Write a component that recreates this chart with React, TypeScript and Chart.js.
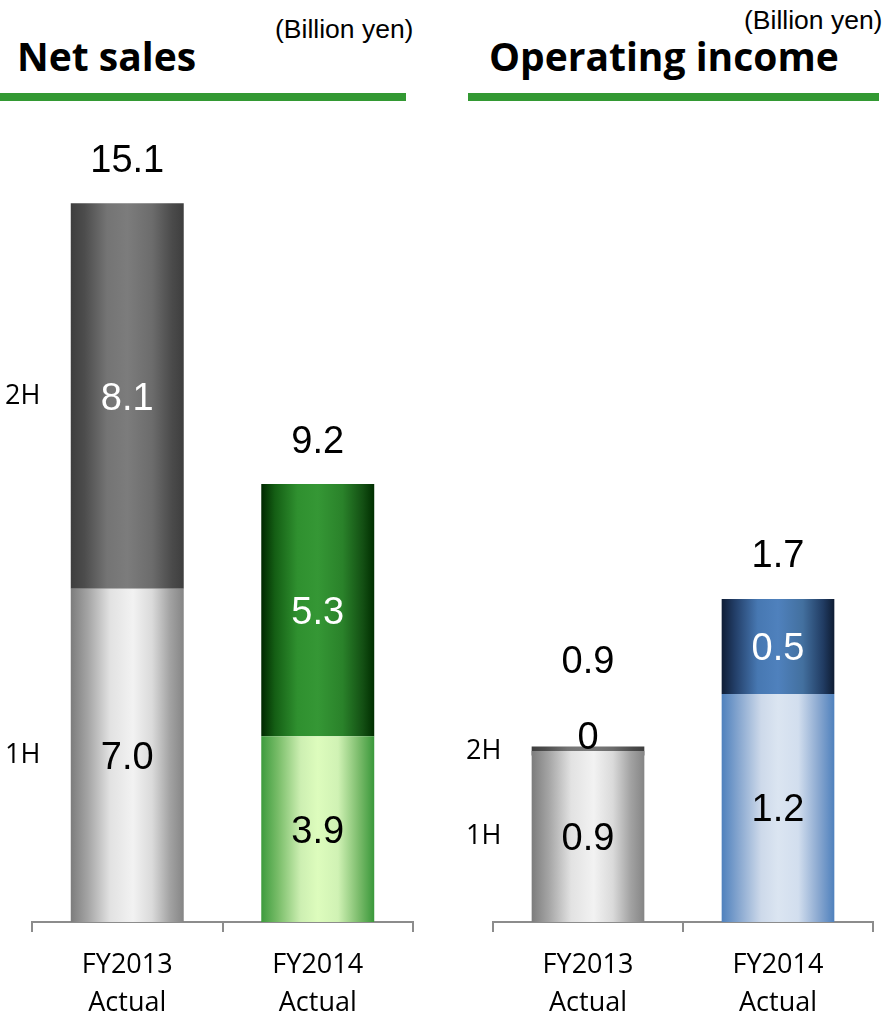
import React, { useEffect, useRef } from "react";
import { Chart, registerables } from "chart.js";

Chart.register(...registerables);

// ---- data (billion yen) ----
const categories = [
  ["FY2013", "Actual"],
  ["FY2014", "Actual"],
];
const halfNames = ["1H", "2H"];

const salesFirstHalf = [7.0, 3.9];
const salesSecondHalf = [8.1, 5.3];
const salesTotal = [15.1, 9.2];

const incomeFirstHalf = [0.9, 1.2];
const incomeSecondHalf = [0, 0.5];
const incomeTotal = [0.9, 1.7];

// ---- styling ----
type Stops = [number, string][];

const GRAY_DARK: Stops = [
  [0, "#3e3e3e"], [0.12, "#4c4c4c"], [0.32, "#747474"], [0.5, "#7c7c7c"],
  [0.72, "#6c6c6c"], [0.9, "#4a4a4a"], [1, "#3e3e3e"],
];
const GRAY_LIGHT: Stops = [
  [0, "#7c7c7c"], [0.15, "#a4a4a4"], [0.35, "#e2e2e2"], [0.55, "#f2f2f2"],
  [0.72, "#dadada"], [0.88, "#a2a2a2"], [1, "#858585"],
];
const GREEN_DARK: Stops = [
  [0, "#002800"], [0.12, "#145e14"], [0.32, "#2f902f"], [0.5, "#359735"],
  [0.72, "#2a822a"], [0.9, "#134f13"], [1, "#002e00"],
];
const GREEN_LIGHT: Stops = [
  [0, "#3d9b3d"], [0.15, "#79bd69"], [0.35, "#cdefb2"], [0.5, "#ddfcbd"],
  [0.68, "#d0f2b4"], [0.86, "#7dbd6d"], [1, "#3a983a"],
];
const BLUE_DARK: Stops = [
  [0, "#0f1d35"], [0.12, "#233f69"], [0.32, "#4778b2"], [0.5, "#4f81bd"],
  [0.72, "#43709f"], [0.9, "#213c63"], [1, "#0e1c33"],
];
const BLUE_LIGHT: Stops = [
  [0, "#4f81bd"], [0.15, "#86a6cf"], [0.35, "#cdd9ea"], [0.5, "#dbe5f1"],
  [0.68, "#d2deee"], [0.86, "#8aa8d0"], [1, "#4f81bd"],
];

const BAR_FRACTION = 0.593;
const NUM_FONT = '38px "Liberation Sans", Arial, sans-serif';
const HALF_FONT = '27px "Open Sans", sans-serif';

const fmt = (v: number) => (v === 0 ? "0" : v.toFixed(1));

function gradientFill(palettes: Stops[]) {
  return (c: any) => {
    const chart = c.chart;
    const area = chart.chartArea;
    const idx = typeof c.dataIndex === "number" ? c.dataIndex : 0;
    const stops = palettes[idx];
    if (!area || !chart.scales.x) return stops[3][1];
    const cx = chart.scales.x.getPixelForValue(idx);
    const w = ((area.right - area.left) / chart.data.labels.length) * BAR_FRACTION;
    const g = chart.ctx.createLinearGradient(cx - w / 2, 0, cx + w / 2, 0);
    stops.forEach(([o, col]) => g.addColorStop(o, col));
    return g;
  };
}

// value labels inside / above each stack, and the 1H / 2H captions
const stackLabels = {
  id: "stackLabels",
  afterDatasetsDraw(chart: any, _args: any, opts: any) {
    const ctx = chart.ctx as CanvasRenderingContext2D;
    const m0 = chart.getDatasetMeta(0);
    const m1 = chart.getDatasetMeta(1);
    const d0 = chart.data.datasets[0].data as number[];
    const d1 = chart.data.datasets[1].data as number[];
    const totals = opts.totals as number[];
    ctx.save();
    ctx.textAlign = "center";
    ctx.textBaseline = "middle";
    ctx.font = NUM_FONT;
    m0.data.forEach((bar0: any, i: number) => {
      const bar1 = m1.data[i];
      ctx.fillStyle = "#000";
      ctx.fillText(fmt(d0[i]), bar0.x, (bar0.y + bar0.base) / 2 + 3);
      const top = Math.min(bar0.y, bar1.y);
      const h1 = Math.abs(bar1.base - bar1.y);
      let totalY: number;
      if (h1 >= 40) {
        ctx.fillStyle = "#fff";
        ctx.fillText(fmt(d1[i]), bar1.x, (bar1.y + bar1.base) / 2 + 3);
        totalY = top - 42;
      } else {
        ctx.fillStyle = "#000";
        ctx.fillText(fmt(d1[i]), bar1.x, top - 8);
        totalY = top - 84;
      }
      ctx.fillStyle = "#000";
      ctx.fillText(fmt(totals[i]), bar1.x, totalY);
    });
    // half captions beside the first stack
    ctx.font = HALF_FONT;
    [m0, m1].forEach((meta: any, k: number) => {
      const b = meta.data[0];
      const x = b.x - b.width / 2 - 48;
      ctx.fillStyle = "#000";
      ctx.fillText(halfNames[k], x, (b.y + b.base) / 2);
    });
    ctx.restore();
  },
};

type PanelCfg = {
  first: number[];
  second: number[];
  totals: number[];
  firstPalettes: Stops[];
  secondPalettes: Stops[];
  yMax: number;
  padLeft: number;
  padRight: number;
};

function Panel({ cfg, left }: { cfg: PanelCfg; left: number }) {
  const ref = useRef<HTMLCanvasElement>(null);
  useEffect(() => {
    if (!ref.current) return;
    const chart = new Chart(ref.current, {
      type: "bar",
      data: {
        labels: categories,
        datasets: [
          {
            label: halfNames[0],
            data: cfg.first,
            backgroundColor: gradientFill(cfg.firstPalettes),
            borderWidth: 0,
          },
          {
            label: halfNames[1],
            data: cfg.second,
            backgroundColor: gradientFill(cfg.secondPalettes),
            borderWidth: 0,
            minBarLength: 9,
          },
        ],
      },
      options: {
        responsive: false,
        animation: false,
        layout: { padding: { left: cfg.padLeft, right: cfg.padRight, top: 0, bottom: 0 } },
        datasets: { bar: { categoryPercentage: 1, barPercentage: BAR_FRACTION } },
        plugins: {
          legend: { display: false },
          tooltip: { enabled: false },
          stackLabels: { totals: cfg.totals },
        } as any,
        scales: {
          x: {
            stacked: true,
            afterFit: (s: any) => {
              s.height = 96;
            },
            grid: {
              display: true,
              offset: true,
              drawOnChartArea: false,
              drawTicks: true,
              tickLength: 10,
              color: "#8c8c8c",
              lineWidth: 2,
            },
            border: { display: true, color: "#8c8c8c", width: 2 },
            ticks: {
              color: "#000",
              font: { family: '"Open Sans", sans-serif', size: 27, lineHeight: 1.42 },
              padding: 14,
              maxRotation: 0,
              autoSkip: false,
            },
          },
          y: {
            stacked: true,
            display: false,
            min: 0,
            max: cfg.yMax,
          },
        },
      },
      plugins: [stackLabels],
    });
    return () => chart.destroy();
  }, [cfg]);
  return (
    <canvas
      ref={ref}
      width={444}
      height={918}
      style={{ position: "absolute", left, top: 100, width: 444, height: 918, display: "block" }}
    />
  );
}

const salesCfg: PanelCfg = {
  first: salesFirstHalf,
  second: salesSecondHalf,
  totals: salesTotal,
  firstPalettes: [GRAY_LIGHT, GREEN_LIGHT],
  secondPalettes: [GRAY_DARK, GREEN_DARK],
  yMax: 17.27,
  padLeft: 32,
  padRight: 31,
};

const incomeCfg: PanelCfg = {
  first: incomeFirstHalf,
  second: incomeSecondHalf,
  totals: incomeTotal,
  firstPalettes: [GRAY_LIGHT, BLUE_LIGHT],
  secondPalettes: [GRAY_DARK, BLUE_DARK],
  yMax: 4.326,
  padLeft: 49,
  padRight: 15,
};

const titleStyle: React.CSSProperties = {
  position: "absolute",
  font: '700 39px "Open Sans", sans-serif',
  lineHeight: "40px",
  color: "#000",
  whiteSpace: "nowrap",
};
const unitStyle: React.CSSProperties = {
  position: "absolute",
  font: '26.5px "Liberation Sans", Arial, sans-serif',
  lineHeight: "26px",
  color: "#000",
  whiteSpace: "nowrap",
};
const ruleStyle: React.CSSProperties = {
  position: "absolute",
  top: 93,
  height: 8,
  background: "#339933",
};

export default function App() {
  return (
    <div
      style={{
        position: "absolute",
        left: 0,
        top: 0,
        width: 888,
        height: 1018,
        background: "#fff",
        overflow: "hidden",
      }}
    >
      <div style={{ ...titleStyle, left: 17, top: 36 }}>Net sales</div>
      <div style={{ ...unitStyle, left: 275, top: 16 }}>(Billion yen)</div>
      <div style={{ ...ruleStyle, left: 0, width: 406 }} />
      <div style={{ ...titleStyle, left: 489, top: 36 }}>Operating income</div>
      <div style={{ ...unitStyle, left: 744, top: 7 }}>(Billion yen)</div>
      <div style={{ ...ruleStyle, left: 468, width: 411 }} />
      <Panel cfg={salesCfg} left={0} />
      <Panel cfg={incomeCfg} left={444} />
    </div>
  );
}
